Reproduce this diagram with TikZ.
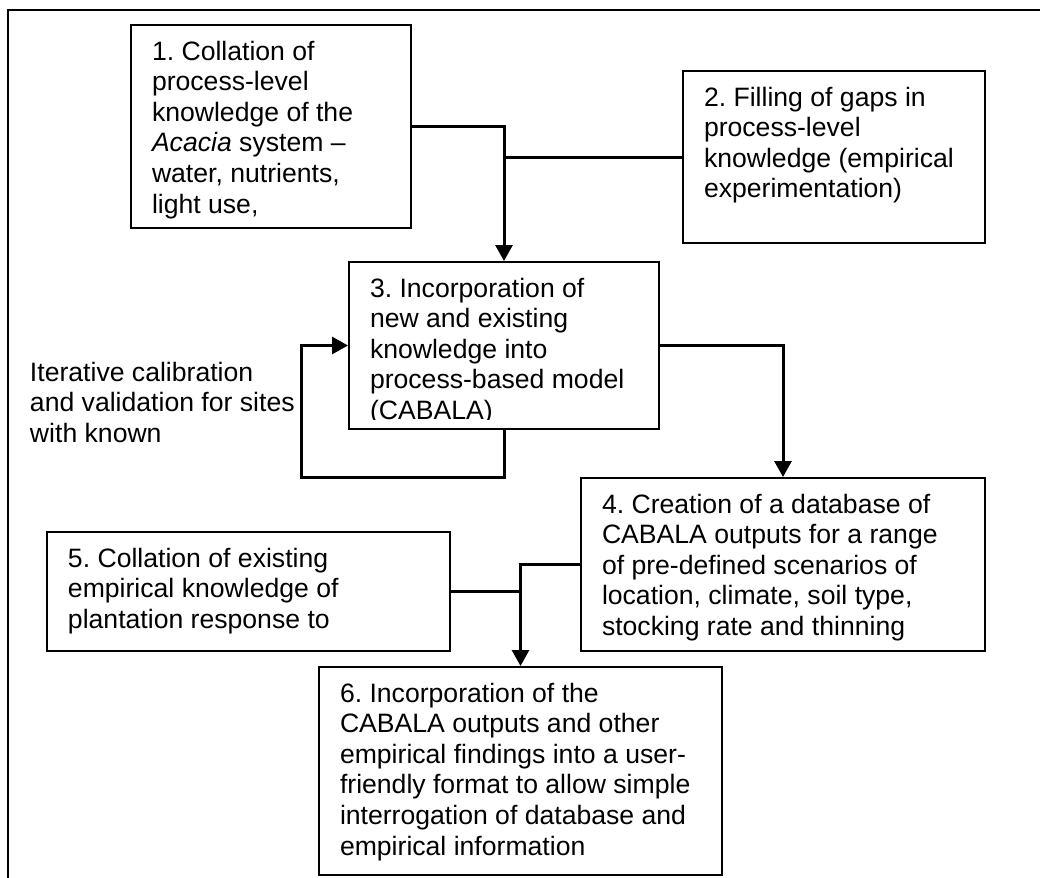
\documentclass[tikz,border=0pt]{standalone}
\usepackage{fontspec}
\setmainfont{Liberation Sans}
\usetikzlibrary{arrows.meta,calc,fit}

\begin{document}
\begin{tikzpicture}[x=0.5pt, y=-0.5pt, line width=1pt,
    box/.style={draw, inner sep=0pt},
    txt/.style={anchor=north west, inner sep=0pt, align=left, font=\fontsize{13.3}{15.3}\selectfont\frenchspacing},
    link/.style={line width=1.5pt},
    arr/.style={link, -{Triangle[length=8pt, width=8.5pt]}}]

\newcommand{\boxtext}[2]{%
    \begin{scope}
        \clip (#1.north west) rectangle ($(#1.south east)+(0,-11)$);
        \node[txt] at ($(#1.north west)+(21,13.6)$) {\strut #2};
    \end{scope}}

\useasboundingbox (0,0) rectangle (1040,878);

% draw outer frame
\draw (1040,10) -- (8,10) -- (8,878);

% draw the boxes
\node[box, fit={(131,25) (411,228)}] (b1) {};
\node[box, fit={(683,71) (985,243)}] (b2) {};
\node[box, fit={(349,262) (659,429)}] (b3) {};
\node[box, fit={(581,478) (985,651)}] (b4) {};
\node[box, fit={(47,532) (450,651)}] (b5) {};
\node[box, fit={(319,667) (722,875)}] (b6) {};

% fill the boxes
\boxtext{b1}{1. Collation of\\process-level\\knowledge of the\\\textit{Acacia} system –\\water, nutrients,\\light use,\\}
\boxtext{b2}{2. Filling of gaps in\\process-level\\knowledge (empirical\\experimentation)}
\boxtext{b3}{3. Incorporation of\\new and existing\\knowledge into\\process-based model\\(CABALA)}
\boxtext{b4}{4. Creation of a database of\\CABALA outputs for a range\\of pre-defined scenarios of\\location, climate, soil type,\\stocking rate and thinning}
\boxtext{b5}{5. Collation of existing\\empirical knowledge of\\plantation response to}
\boxtext{b6}{6. Incorporation of the\\CABALA outputs and other\\empirical findings into a user-\\friendly format to allow simple\\interrogation of database and\\empirical information}

% label the loop
\node[txt] (iter) at (29,358.6) {\strut Iterative calibration\\and validation for sites\\with known};

% draw connectors
\draw[arr] (b1.east) -| (b3.north);
\draw[link] (b2.west) -- (b2.west -| b3.north);
\draw[arr] (b3.east) -| (b4.north);
\coordinate (loop) at (301,477);
\draw[arr] (b3.south) |- (loop) |- (b3.west);
\draw[arr] (b4.west) -| (b6.north);
\draw[link] (b5.east) -- (b5.east -| b6.north);

\end{tikzpicture}
\end{document}
